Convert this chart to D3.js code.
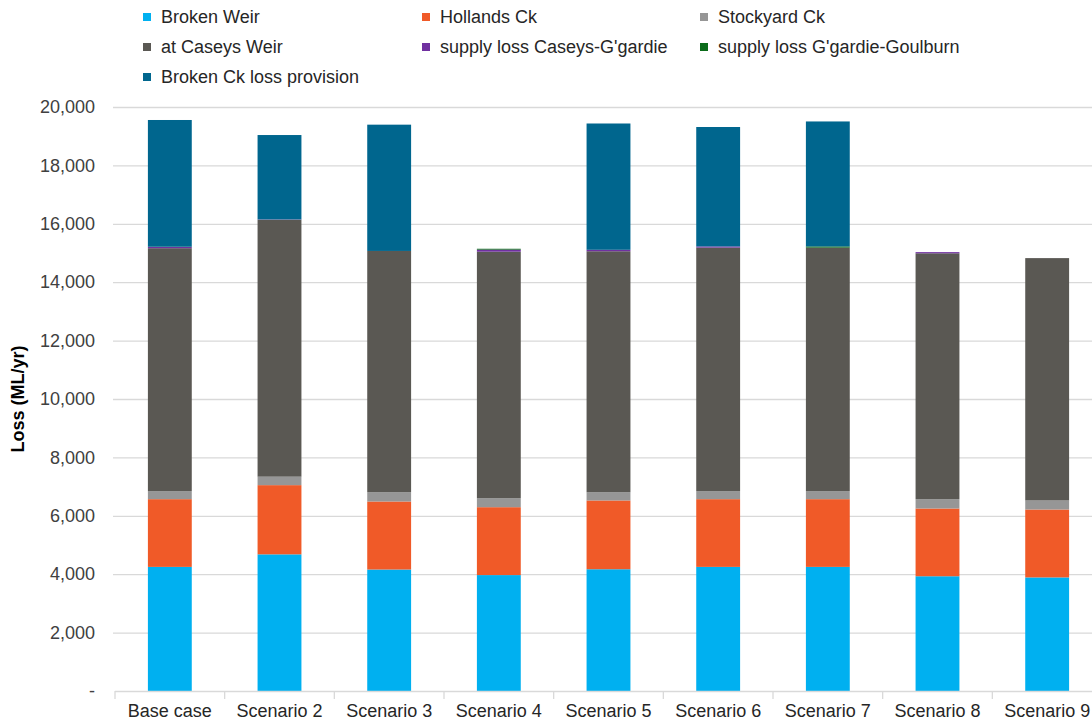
<!DOCTYPE html>
<html>
<head>
<meta charset="utf-8">
<script src="https://cdn.jsdelivr.net/npm/d3@7"></script>
<style>
  body { margin: 0; background: #ffffff; }
  text { font-family: "Liberation Sans", Arial, sans-serif; }
</style>
</head>
<body>
<svg id="chart" width="1092" height="725"></svg>
<script>
// Scenario categories along the x axis
const scenarios = ["Base case", "Scenario 2", "Scenario 3", "Scenario 4", "Scenario 5",
                   "Scenario 6", "Scenario 7", "Scenario 8", "Scenario 9"];

// Loss components, ML/yr, stacked bottom to top
const brokenWeir     = [4250, 4680, 4160, 3970, 4170, 4250, 4250, 3930, 3890];
const hollandsCk     = [2320, 2370, 2330, 2325, 2355, 2320, 2320, 2320, 2325];
const stockyardCk    = [275, 290, 320, 310, 285, 275, 275, 320, 310];
const atCaseysWeir   = [8320, 8800, 8260, 8440, 8250, 8340, 8340, 8420, 8300];
const supplyCaseys   = [40, 10, 0, 70, 50, 40, 0, 40, 0];
const supplyGoulburn = [10, 0, 0, 30, 0, 0, 40, 0, 0];
const brokenCkProv   = [4340, 2890, 4325, 0, 4325, 4090, 4280, 0, 0];

const seriesNames = ["Broken Weir", "Hollands Ck", "Stockyard Ck", "at Caseys Weir",
                     "supply loss Caseys-G'gardie", "supply loss G'gardie-Goulburn",
                     "Broken Ck loss provision"];
const seriesColors = ["#00b0f0", "#f05a28", "#969696", "#5a5853", "#7030a0", "#0b6b1a", "#00668e"];

const yTicks = [0, 2000, 4000, 6000, 8000, 10000, 12000, 14000, 16000, 18000, 20000];
const yTickLabels = ["-", "2,000", "4,000", "6,000", "8,000", "10,000", "12,000",
                     "14,000", "16,000", "18,000", "20,000"];

const seriesValues = [brokenWeir, hollandsCk, stockyardCk, atCaseysWeir,
                      supplyCaseys, supplyGoulburn, brokenCkProv];

// Row table for d3.stack
const table = scenarios.map((s, i) => {
  const row = { scenario: s };
  seriesNames.forEach((n, k) => { row[n] = seriesValues[k][i]; });
  return row;
});

const svg = d3.select("#chart");

const plotLeft = 115, plotRight = 1102, plotTop = 107, plotBottom = 691;

const x = d3.scaleBand()
  .domain(scenarios)
  .range([plotLeft, plotRight])
  .paddingInner(0.6)
  .paddingOuter(0.3);

const y = d3.scaleLinear()
  .domain([0, 20000])
  .range([plotBottom, plotTop]);

const color = d3.scaleOrdinal().domain(seriesNames).range(seriesColors);

// Horizontal gridlines
svg.append("g")
  .selectAll("line")
  .data(yTicks.filter(t => t > 0))
  .join("line")
  .attr("x1", plotLeft - 2)
  .attr("x2", 1092)
  .attr("y1", d => y(d) + 0.5)
  .attr("y2", d => y(d) + 0.5)
  .attr("stroke", "#d9d9d9")
  .attr("stroke-width", 1.3);

// Y axis labels
const yAxis = d3.axisLeft(y)
  .tickValues(yTicks)
  .tickSize(0)
  .tickPadding(0)
  .tickFormat((d, i) => yTickLabels[i]);

svg.append("g")
  .attr("transform", `translate(${plotLeft - 20},0)`)
  .call(yAxis)
  .call(g => g.select(".domain").remove())
  .call(g => g.selectAll("text")
    .attr("font-size", 18)
    .attr("fill", "#404040")
    .attr("font-family", "'Liberation Sans', Arial, sans-serif"));

// Stacked bars
const stacked = d3.stack().keys(seriesNames)(table);

svg.append("g")
  .selectAll("g")
  .data(stacked)
  .join("g")
  .attr("fill", d => color(d.key))
  .selectAll("rect")
  .data(d => d)
  .join("rect")
  .attr("x", d => x(d.data.scenario))
  .attr("width", x.bandwidth())
  .attr("y", d => y(d[1]))
  .attr("height", d => y(d[0]) - y(d[1]));

// Category axis line and boundary ticks
svg.append("line")
  .attr("x1", plotLeft)
  .attr("x2", 1092)
  .attr("y1", plotBottom + 0.5)
  .attr("y2", plotBottom + 0.5)
  .attr("stroke", "#d9d9d9")
  .attr("stroke-width", 1.3);

const step = x.step();
const boundaries = d3.range(scenarios.length + 1).map(i => plotLeft + i * step);
svg.append("g")
  .selectAll("line")
  .data(boundaries.filter(b => b <= 1092))
  .join("line")
  .attr("x1", d => d)
  .attr("x2", d => d)
  .attr("y1", plotBottom)
  .attr("y2", plotBottom + 8)
  .attr("stroke", "#d9d9d9")
  .attr("stroke-width", 1.3);

const xAxis = d3.axisBottom(x).tickSize(0).tickPadding(0);
svg.append("g")
  .attr("transform", `translate(0,${plotBottom + 10})`)
  .call(xAxis)
  .call(g => g.select(".domain").remove())
  .call(g => g.selectAll("text")
    .attr("font-size", 18)
    .attr("fill", "#262626")
    .attr("dy", "0.9em")
    .attr("font-family", "'Liberation Sans', Arial, sans-serif"));

// Y axis title
svg.append("text")
  .attr("transform", `translate(24,${(plotTop + plotBottom) / 2}) rotate(-90)`)
  .attr("text-anchor", "middle")
  .attr("font-size", 18)
  .attr("font-weight", "bold")
  .attr("fill", "#000000")
  .text("Loss (ML/yr)");

// Legend: three columns
const legendCols = [143, 422, 700];
const legendRows = [17, 47, 77];
const legend = svg.append("g")
  .selectAll("g")
  .data(seriesNames)
  .join("g")
  .attr("transform", (d, i) => `translate(${legendCols[i % 3]},${legendRows[Math.floor(i / 3)]})`);

legend.append("rect")
  .attr("x", 0)
  .attr("y", -4)
  .attr("width", 8)
  .attr("height", 8)
  .attr("fill", d => color(d));

legend.append("text")
  .attr("x", 18)
  .attr("y", 0)
  .attr("dy", "0.36em")
  .attr("font-size", 18)
  .attr("fill", "#262626")
  .text(d => d);
</script>
</body>
</html>
